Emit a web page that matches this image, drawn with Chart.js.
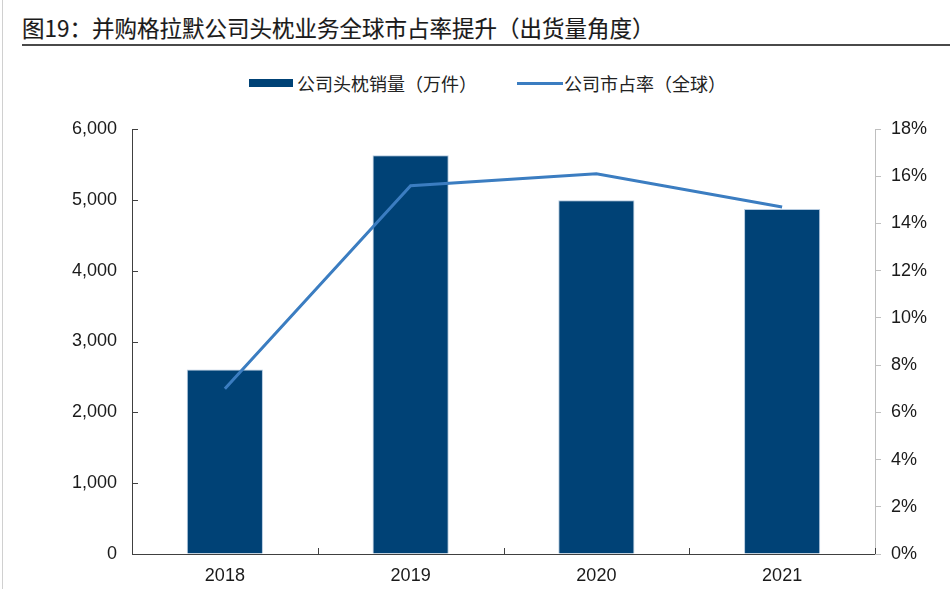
<!DOCTYPE html>
<html>
<head>
<meta charset="utf-8">
<script src="https://cdn.jsdelivr.net/npm/chart.js@4/dist/chart.umd.min.js"></script>
<style>
  body { margin: 0; width: 950px; height: 589px; background: #fff; position: relative; overflow: hidden; }
  #wrap { position: absolute; left: 0; top: 0; width: 950px; height: 589px; }
  #leftBorder { position: absolute; left: 2px; top: 0; width: 1px; height: 589px; background: #d0d0d0; }
  #title { position: absolute; left: 22px; top: 11px; font: 400 22.5px "Noto Sans CJK SC", sans-serif; color: #1a1a1a; white-space: nowrap; -webkit-text-stroke: 0.15px #1a1a1a; }
  #titleLine { position: absolute; left: 22px; right: 0; top: 44px; height: 2px; background: #4a4a4a; }
  .leg { position: absolute; top: 70px; font: 18px "Noto Sans CJK SC", sans-serif; color: #222; white-space: nowrap; line-height: 26px; }
  .sw { position: absolute; }
  canvas { position: absolute; left: 0; top: 0; }
</style>
</head>
<body>
<div id="wrap">
  <div id="leftBorder"></div>
  <div id="title">图19：并购格拉默公司头枕业务全球市占率提升（出货量角度）</div>
  <div id="titleLine"></div>
  <div class="sw" style="left:249px; top:79px; width:44px; height:8px; background:#004276;"></div>
  <div class="leg" style="left:297px;">公司头枕销量（万件）</div>
  <div class="sw" style="left:517px; top:82px; width:46px; height:3px; background:#3b7dc1;"></div>
  <div class="leg" style="left:564px;">公司市占率（全球）</div>
  <canvas id="myChart" width="950" height="589"></canvas>
</div>
<script>
// Kategorien und Werte
let years = ["2018", "2019", "2020", "2021"];
let salesVolume = [2605, 5630, 4995, 4870];   // 万件
let marketShare = [7.0, 15.6, 16.1, 14.7];     // %

let numFont = { family: "'Liberation Sans', Arial, sans-serif", size: 18 };

// Innenliegende Teilstriche (linke Achse und x-Achse)
let innerTicks = {
  id: "innerTicks",
  afterDraw(chart) {
    let ctx = chart.ctx;
    let x = chart.scales.x;
    let y = chart.scales.y;
    let area = chart.chartArea;
    ctx.save();
    ctx.strokeStyle = "#404040";
    ctx.lineWidth = 1;
    ctx.beginPath();
    y.ticks.forEach((t) => {
      let py = Math.round(y.getPixelForValue(t.value)) + 0.5;
      ctx.moveTo(area.left, py);
      ctx.lineTo(area.left + 6, py);
    });
    for (let i = 0; i <= years.length; i++) {
      let px = Math.round(x.getPixelForValue(i - 0.5)) + 0.5;
      ctx.moveTo(px, area.bottom);
      ctx.lineTo(px, area.bottom - 6);
    }
    ctx.stroke();
    ctx.restore();
  },
};

new Chart(document.getElementById("myChart").getContext("2d"), {
  data: {
    labels: years,
    datasets: [
      {
        type: "line",
        label: "公司市占率（全球）",
        data: marketShare,
        yAxisID: "y1",
        borderColor: "#3b7dc1",
        borderWidth: 3,
        pointRadius: 0,
        tension: 0,
        order: 0,
      },
      {
        type: "bar",
        label: "公司头枕销量（万件）",
        data: salesVolume,
        yAxisID: "y",
        backgroundColor: "#004276",
        borderColor: "rgba(150,180,210,0.7)",
        borderWidth: 1,
        barPercentage: 0.41,
        categoryPercentage: 1,
        order: 1,
      },
    ],
  },
  options: {
    responsive: false,
    animation: false,
    devicePixelRatio: 1,
    layout: { padding: { top: 129, left: 0, right: 0, bottom: 0 } },
    plugins: { legend: { display: false }, tooltip: { enabled: false } },
    scales: {
      x: {
        offset: true,
        grid: { drawOnChartArea: false, drawTicks: false },
        border: { display: true, color: "#404040", width: 1 },
        ticks: { color: "#1a1a1a", font: numFont, padding: 11 },
        afterFit(s) { s.height = 35; s.paddingLeft = 0; s.paddingRight = 0; },
      },
      y: {
        position: "left",
        min: 0,
        max: 6000,
        grid: { drawOnChartArea: false, drawTicks: false },
        border: { display: true, color: "#404040", width: 1 },
        ticks: {
          stepSize: 1000,
          color: "#1a1a1a",
          font: numFont,
          padding: 15,
          callback: (v) => v.toLocaleString("en-US"),
        },
        afterFit(s) { s.width = 132; s.paddingTop = 0; s.paddingBottom = 0; },
      },
      y1: {
        position: "right",
        min: 0,
        max: 18,
        grid: { drawOnChartArea: false, drawTicks: true, tickLength: 6, color: "#bfbfbf" },
        border: { display: true, color: "#bfbfbf", width: 1 },
        ticks: {
          stepSize: 2,
          color: "#1a1a1a",
          font: numFont,
          padding: 10,
          callback: (v) => v + "%",
        },
        afterFit(s) { s.width = 75; s.paddingTop = 0; s.paddingBottom = 0; },
      },
    },
  },
  plugins: [innerTicks],
});
</script>
</body>
</html>
